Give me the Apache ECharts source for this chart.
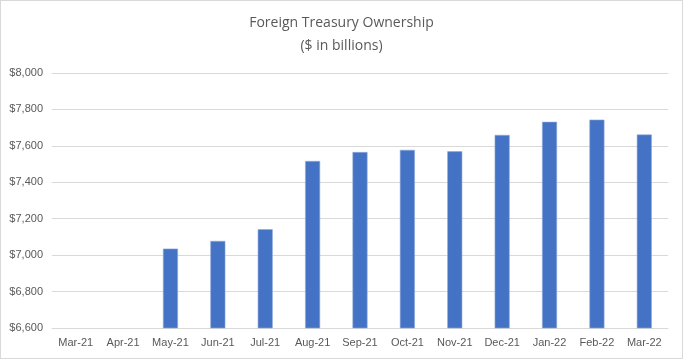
<!DOCTYPE html>
<html>
<head>
<meta charset="utf-8">
<script src="https://cdn.jsdelivr.net/npm/echarts@6/dist/echarts.min.js"></script>
<style>
html,body{margin:0;padding:0;background:#fff;}
#wrap{position:absolute;left:0;top:0;width:681px;height:357px;border:1px solid #d9d9d9;}
#chart{width:681px;height:357px;}
</style>
</head>
<body>
<div id="wrap"><div id="chart"></div></div>
<script>
const categories = ['Mar-21','Apr-21','May-21','Jun-21','Jul-21','Aug-21','Sep-21','Oct-21','Nov-21','Dec-21','Jan-22','Feb-22','Mar-22'];
const values = [null, null, 7036, 7078, 7142, 7517, 7566, 7578, 7570, 7660, 7732, 7744, 7662];
const titleLines = ['Foreign Treasury Ownership', '($ in billions)'];

const chart = echarts.init(document.getElementById('chart'), null, {renderer:'canvas'});
chart.setOption({
  animation:false,
  title:{
    text: titleLines.join('\n'),
    left:'center', top:6,
    textStyle:{fontFamily:'Open Sans', fontWeight:'normal', fontSize:14, color:'#595959', lineHeight:23}
  },
  grid:{left:51, right:14, top:72, bottom:30},
  xAxis:{
    type:'category', data:categories,
    axisLine:{lineStyle:{color:'#d9d9d9'}},
    axisTick:{show:false},
    axisLabel:{color:'#595959', fontFamily:'Liberation Sans', fontSize:11, margin:9, interval:0}
  },
  yAxis:{
    type:'value', min:6600, max:8000, interval:200,
    axisLine:{show:false}, axisTick:{show:false},
    splitLine:{lineStyle:{color:'#d9d9d9'}},
    axisLabel:{color:'#595959', fontFamily:'Liberation Sans', fontSize:11, margin:9,
      formatter:v=>'$'+v.toLocaleString('en-US')}
  },
  series:[{
    type:'bar', data:values, barWidth:15,
    itemStyle:{color:'#4472C4', borderColor:'#8faadc', borderWidth:0.6}
  }]
});
</script>
</body>
</html>
